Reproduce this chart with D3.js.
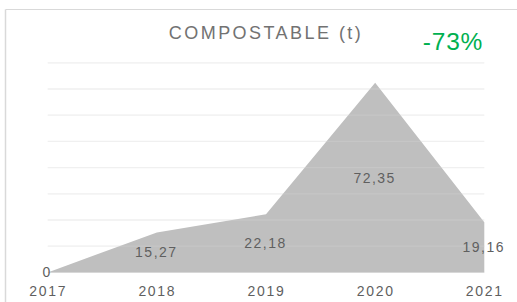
<!DOCTYPE html>
<html>
<head>
<meta charset="utf-8">
<script src="https://cdn.jsdelivr.net/npm/d3@7"></script>
<style>
  html, body { margin: 0; padding: 0; background: #fff; }
  svg { display: block; font-family: "Liberation Sans", Arial, sans-serif; }
</style>
</head>
<body>
<svg id="chart" width="517" height="302"></svg>
<script>
const years = ["2017", "2018", "2019", "2020", "2021"];
const values = [0, 15.27, 22.18, 72.35, 19.16];
const valueLabels = ["0", "15,27", "22,18", "72,35", "19,16"];
const yTicks = [0, 10, 20, 30, 40, 50, 60, 70, 80];
const title = "COMPOSTABLE (t)";
const changeLabel = "-73%";

const svg = d3.select("#chart");
const W = 517, H = 302;

// frame (only top and left edges visible in the crop)
svg.append("line").attr("x1", 5.5).attr("x2", W).attr("y1", 9.5).attr("y2", 9.5)
  .attr("stroke", "#d9d9d9").attr("stroke-width", 1.2);
svg.append("line").attr("x1", 5.5).attr("x2", 5.5).attr("y1", 9.5).attr("y2", H)
  .attr("stroke", "#d9d9d9").attr("stroke-width", 1.5);

const x = d3.scalePoint().domain(years).range([47.7, 484.3]);
const y = d3.scaleLinear().domain([0, 80]).range([272.4, 62.8]);

// gridlines
const grid = svg.append("g");
grid.selectAll("line").data(yTicks).join("line")
  .attr("x1", x.range()[0]).attr("x2", x.range()[1])
  .attr("y1", d => y(d)).attr("y2", d => y(d))
  .attr("stroke", "#eeeeee").attr("stroke-width", 1.3);

// area
const area = d3.area()
  .x((d, i) => x(years[i]))
  .y0(y(0))
  .y1(d => y(d));
svg.append("path").datum(values).attr("d", area).attr("fill", "#bfbfbf");

// faint gridlines over the area
svg.append("g").selectAll("line").data(yTicks.filter(d => d > 0)).join("line")
  .attr("x1", x.range()[0]).attr("x2", x.range()[1])
  .attr("y1", d => y(d)).attr("y2", d => y(d))
  .attr("stroke", "#ffffff").attr("stroke-opacity", 0.12).attr("stroke-width", 1.3);

// x axis labels
const xAxis = d3.axisBottom(x).tickSize(0).tickPadding(0);
const gx = svg.append("g").attr("transform", `translate(0,${y(0)})`).call(xAxis);
gx.select(".domain").remove();
gx.selectAll("text")
  .attr("y", 24).attr("dy", 0)
  .attr("font-size", 14)
  .attr("letter-spacing", 1.7)
  .attr("fill", "#5f5f5f")
  .attr("font-family", "Liberation Sans, Arial, sans-serif");

// data labels at half height (Excel area centre)
svg.append("g").selectAll("text").data(values).join("text")
  .attr("x", (d, i) => x(years[i]) - 0.5)
  .attr("y", d => y(d / 2))
  .attr("dy", "0.36em")
  .attr("text-anchor", "middle")
  .attr("font-size", 14)
  .attr("letter-spacing", 1.5)
  .attr("fill", "#5f5f5f")
  .text((d, i) => valueLabels[i]);

// title
svg.append("text")
  .attr("x", 266).attr("y", 38.5)
  .attr("text-anchor", "middle")
  .attr("font-size", 18)
  .attr("letter-spacing", 2.45)
  .attr("fill", "#727272")
  .text(title);

// change label
svg.append("text")
  .attr("x", 453).attr("y", 49.5)
  .attr("text-anchor", "middle")
  .attr("font-size", 24.5)
  .attr("letter-spacing", 0.8)
  .attr("fill", "#00b050")
  .text(changeLabel);
</script>
</body>
</html>
